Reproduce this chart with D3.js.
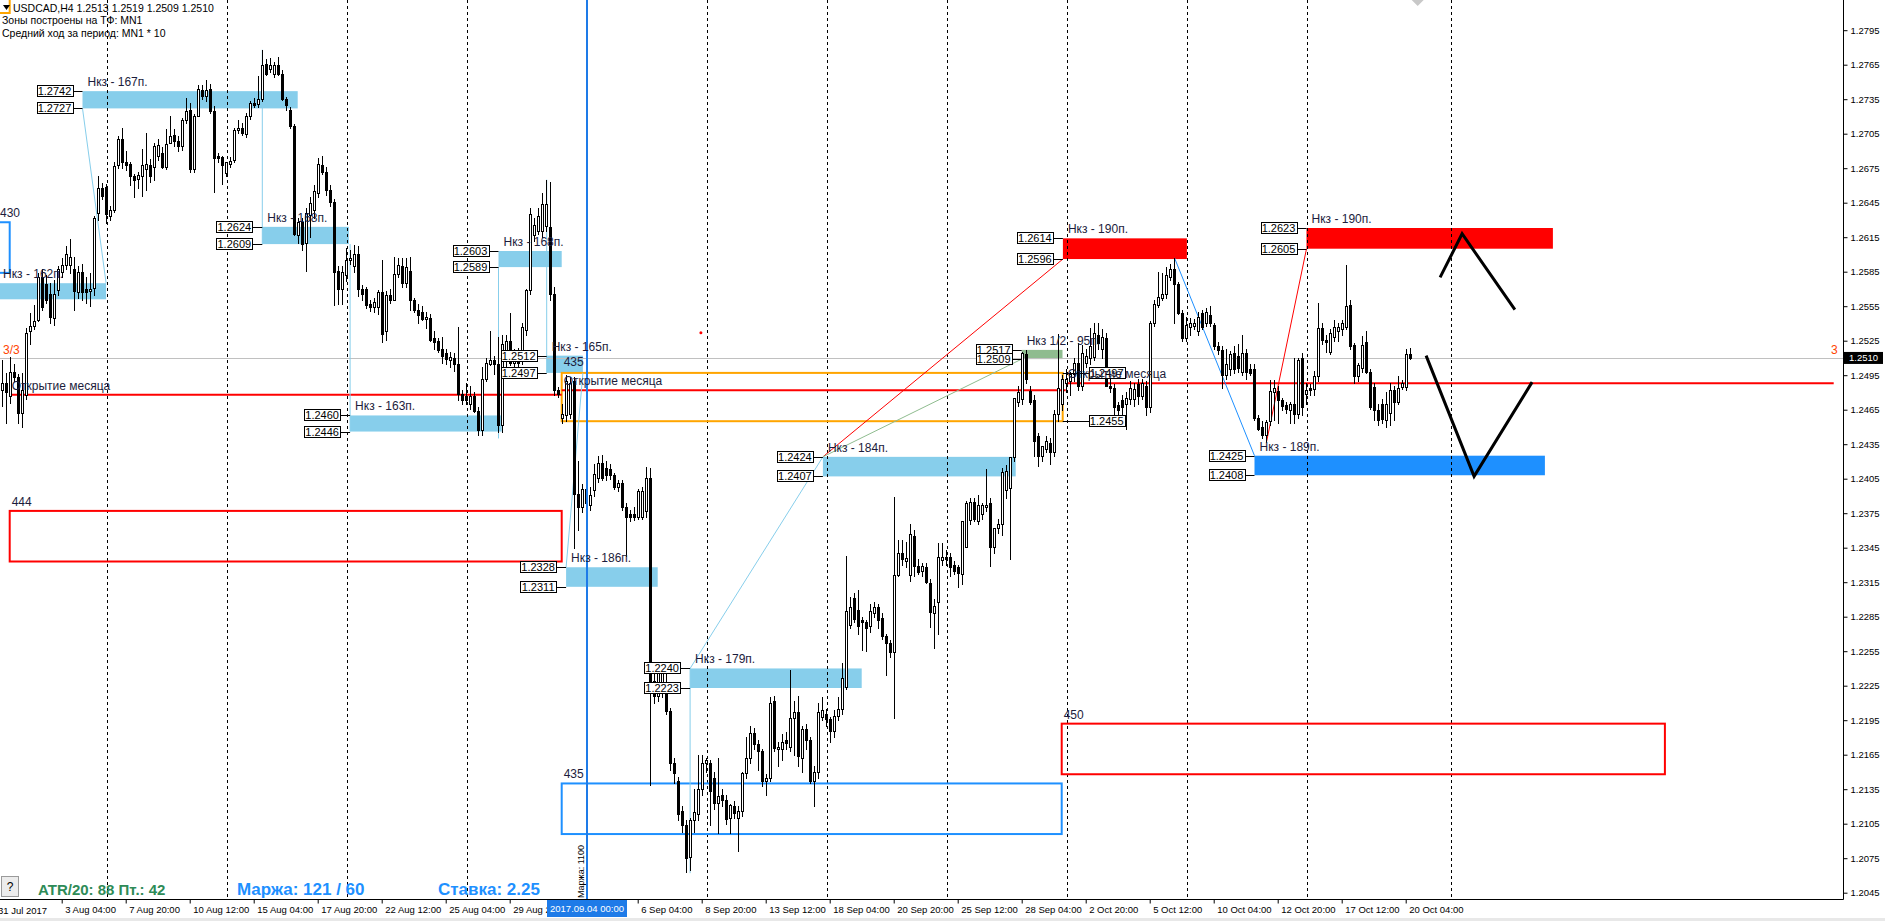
<!DOCTYPE html>
<html><head><meta charset="utf-8">
<script src="https://cdn.jsdelivr.net/npm/d3@7"></script>
<style>
html,body{margin:0;padding:0;background:#fff;overflow:hidden}
svg{display:block;font-family:"Liberation Sans",Arial,sans-serif}
</style></head><body>
<svg id="chart" width="1885" height="921"></svg>
<script>
// ================= DATA =================
const headerLines = ["USDCAD,H4  1.2513 1.2519 1.2509 1.2510", "Зоны построены на ТФ: MN1", "Средний ход за период: MN1 * 10"];

// H4 candles, bar 0 = 31 Jul 2017 16:00
const candleOpen = [
1.2482,1.2488,1.2477,1.2498,1.2493,1.2462,1.2478,1.2533,1.2538,1.2543,
1.2580,1.2574,1.2566,1.2545,1.2569,1.2585,1.2591,1.2591,1.2587,1.2567,
1.2585,1.2570,1.2568,1.2571,1.2636,1.2658,1.2659,1.2633,1.2639,1.2678,
1.2700,1.2680,1.2679,1.2668,1.2666,1.2668,1.2674,1.2678,1.2676,1.2686,
1.2688,1.2676,1.2697,1.2704,1.2699,1.2694,1.2717,1.2726,1.2674,1.2720,
1.2743,1.2738,1.2744,1.2725,1.2686,1.2685,1.2671,1.2679,1.2682,1.2708,
1.2710,1.2705,1.2720,1.2732,1.2731,1.2735,1.2766,1.2761,1.2757,1.2765,
1.2757,1.2735,1.2726,1.2712,1.2617,1.2628,1.2610,1.2634,1.2639,1.2653,
1.2678,1.2672,1.2656,1.2646,1.2586,1.2570,1.2582,1.2595,1.2590,1.2600,
1.2570,1.2570,1.2557,1.2554,1.2554,1.2567,1.2533,1.2565,1.2560,1.2583,
1.2590,1.2575,1.2586,1.2560,1.2552,1.2550,1.2544,1.2545,1.2527,1.2525,
1.2518,1.2514,1.2508,1.2510,1.2505,1.2479,1.2477,1.2470,1.2477,1.2464,
1.2447,1.2492,1.2505,1.2508,1.2505,1.2452,1.2508,1.2525,1.2506,1.2510,
1.2508,1.2534,1.2569,1.2617,1.2620,1.2620,1.2625,1.2624,1.2566,1.2482,
1.2458,1.2460,1.2461,1.2490,1.2392,1.2380,1.2396,1.2382,1.2395,1.2406,
1.2419,1.2414,1.2413,1.2408,1.2398,1.2401,1.2380,1.2374,1.2374,1.2372,
1.2372,1.2377,1.2406,1.2229,1.2216,1.2222,1.2226,1.2203,1.2158,1.2142,
1.2116,1.2104,1.2076,1.2108,1.2113,1.2135,1.2158,1.2158,1.2145,1.2123,
1.2130,1.2126,1.2110,1.2120,1.2110,1.2116,1.2149,1.2162,1.2184,1.2174,
1.2168,1.2142,1.2145,1.2212,1.2170,1.2170,1.2178,1.2172,1.2197,1.2202,
1.2162,1.2187,1.2178,1.2142,1.2150,1.2198,1.2200,1.2196,1.2186,1.2199,
1.2205,1.2224,1.2278,1.2301,1.2291,1.2282,1.2280,1.2277,1.2288,1.2293,
1.2284,1.2268,1.2262,1.2254,1.2321,1.2340,1.2333,1.2321,1.2355,1.2329,
1.2325,1.2328,1.2314,1.2288,1.2298,1.2334,1.2337,1.2337,1.2330,1.2328,
1.2322,1.2346,1.2369,1.2385,1.2368,1.2374,1.2380,1.2384,1.2346,1.2362,
1.2366,1.2395,1.2397,1.2424,1.2472,1.2474,1.2513,1.2481,1.2473,1.2442,
1.2425,1.2431,1.2436,1.2428,1.2461,1.2470,1.2488,1.2490,1.2496,1.2506,
1.2486,1.2506,1.2510,1.2511,1.2530,1.2518,1.2527,1.2486,1.2484,1.2469,
1.2473,1.2470,1.2474,1.2474,1.2487,1.2477,1.2486,1.2467,1.2540,1.2556,
1.2562,1.2566,1.2580,1.2587,1.2574,1.2549,1.2527,1.2537,1.2538,1.2533,
1.2549,1.2540,1.2547,1.2539,1.2520,1.2517,1.2495,1.2500,1.2514,1.2512,
1.2498,1.2514,1.2500,1.2500,1.2458,1.2450,1.2443,1.2455,1.2480,1.2481,
1.2473,1.2469,1.2465,1.2470,1.2461,1.2510,1.2479,1.2484,1.2483,1.2494,
1.2536,1.2526,1.2515,1.2528,1.2533,1.2535,1.2537,1.2556,1.2521,1.2494,
1.2501,1.2524,1.2498,1.2485,1.2465,1.2470,1.2456,1.2462,1.2482,1.2472,
1.2485,1.2485,1.2513];
const candleHigh = [
1.2508,1.2497,1.2511,1.2505,1.2496,1.2497,1.2536,1.2549,1.2556,1.2584,
1.2587,1.2582,1.2575,1.2578,1.2590,1.2597,1.2607,1.2613,1.2598,1.2590,
1.2592,1.2580,1.2584,1.2633,1.2668,1.2662,1.2661,1.2642,1.2680,1.2703,
1.2710,1.2690,1.2680,1.2670,1.2672,1.2692,1.2706,1.2683,1.2697,1.2700,
1.2693,1.2709,1.2720,1.2709,1.2703,1.2719,1.2736,1.2732,1.2722,1.2747,
1.2747,1.2752,1.2748,1.2729,1.2688,1.2686,1.2680,1.2685,1.2710,1.2717,
1.2714,1.2723,1.2733,1.2736,1.2755,1.2778,1.2770,1.2771,1.2767,1.2772,
1.2760,1.2737,1.2728,1.2713,1.2632,1.2632,1.2640,1.2650,1.2660,1.2684,
1.2686,1.2676,1.2660,1.2648,1.2590,1.2590,1.2606,1.2604,1.2608,1.2607,
1.2573,1.2572,1.2560,1.2562,1.2569,1.2595,1.2568,1.2570,1.2598,1.2597,
1.2597,1.2597,1.2598,1.2562,1.2557,1.2555,1.2550,1.2548,1.2533,1.2527,
1.2528,1.2518,1.2515,1.2514,1.2537,1.2482,1.2488,1.2486,1.2480,1.2467,
1.2502,1.2510,1.2533,1.2512,1.2528,1.2530,1.2530,1.2549,1.2518,1.2519,
1.2540,1.2570,1.2640,1.2632,1.2640,1.2653,1.2665,1.2663,1.2572,1.2485,
1.2470,1.2495,1.2493,1.2493,1.2420,1.2400,1.2402,1.2398,1.2418,1.2425,
1.2426,1.2420,1.2418,1.2410,1.2404,1.2404,1.2384,1.2378,1.2380,1.2396,
1.2398,1.2415,1.2414,1.2245,1.2240,1.2242,1.2236,1.2206,1.2162,1.2146,
1.2120,1.2108,1.2110,1.2135,1.2165,1.2165,1.2162,1.2160,1.2150,1.2162,
1.2135,1.2130,1.2122,1.2125,1.2120,1.2150,1.2180,1.2190,1.2188,1.2178,
1.2170,1.2148,1.2215,1.2216,1.2176,1.2183,1.2185,1.2239,1.2212,1.2216,
1.2190,1.2192,1.2180,1.2155,1.2210,1.2215,1.2205,1.2198,1.2204,1.2215,
1.2245,1.2338,1.2302,1.2306,1.2308,1.2285,1.2282,1.2296,1.2298,1.2296,
1.2288,1.2270,1.2265,1.2389,1.2352,1.2352,1.2350,1.2366,1.2360,1.2335,
1.2332,1.2332,1.2318,1.2300,1.2349,1.2349,1.2343,1.2340,1.2333,1.2330,
1.2368,1.2386,1.2388,1.2388,1.2391,1.2384,1.2413,1.2388,1.2362,1.2370,
1.2414,1.2417,1.2424,1.2475,1.2486,1.2515,1.2517,1.2486,1.2478,1.2445,
1.2433,1.2442,1.2440,1.2465,1.2531,1.2495,1.2500,1.2498,1.2510,1.2523,
1.2521,1.2518,1.2536,1.2540,1.2540,1.2535,1.2532,1.2492,1.2487,1.2472,
1.2478,1.2480,1.2490,1.2488,1.2492,1.2492,1.2490,1.2542,1.2560,1.2585,
1.2584,1.2589,1.2592,1.2597,1.2576,1.2552,1.2546,1.2545,1.2544,1.2550,
1.2552,1.2553,1.2555,1.2540,1.2524,1.2520,1.2518,1.2516,1.2520,1.2522,
1.2530,1.2518,1.2505,1.2505,1.2460,1.2455,1.2456,1.2491,1.2491,1.2486,
1.2475,1.2472,1.2472,1.2510,1.2510,1.2514,1.2488,1.2487,1.2499,1.2558,
1.2540,1.2530,1.2535,1.2543,1.2540,1.2543,1.2591,1.2560,1.2523,1.2506,
1.2529,1.2533,1.2500,1.2488,1.2470,1.2474,1.2480,1.2488,1.2486,1.2494,
1.2491,1.2518,1.2519];
const candleLow = [
1.2468,1.2453,1.2471,1.2490,1.2453,1.2450,1.2474,1.2522,1.2535,1.2542,
1.2552,1.2558,1.2540,1.2539,1.2565,1.2580,1.2587,1.2584,1.2552,1.2562,
1.2560,1.2558,1.2555,1.2565,1.2630,1.2648,1.2627,1.2630,1.2637,1.2675,
1.2675,1.2673,1.2660,1.2650,1.2658,1.2651,1.2656,1.2663,1.2665,1.2682,
1.2675,1.2674,1.2697,1.2694,1.2690,1.2691,1.2714,1.2672,1.2672,1.2720,
1.2735,1.2733,1.2723,1.2654,1.2680,1.2661,1.2668,1.2676,1.2680,1.2706,
1.2704,1.2702,1.2718,1.2728,1.2728,1.2733,1.2756,1.2759,1.2754,1.2756,
1.2734,1.2726,1.2710,1.2617,1.2610,1.2604,1.2586,1.2615,1.2632,1.2650,
1.2670,1.2652,1.2642,1.2556,1.2557,1.2557,1.2577,1.2592,1.2585,1.2564,
1.2560,1.2553,1.2551,1.2550,1.2548,1.2524,1.2526,1.2558,1.2560,1.2580,
1.2572,1.2572,1.2552,1.2550,1.2540,1.2543,1.2536,1.2525,1.2518,1.2515,
1.2506,1.2505,1.2502,1.2499,1.2473,1.2470,1.2470,1.2466,1.2463,1.2443,
1.2443,1.2490,1.2504,1.2496,1.2446,1.2446,1.2496,1.2504,1.2500,1.2502,
1.2505,1.2530,1.2566,1.2612,1.2618,1.2615,1.2620,1.2560,1.2478,1.2476,
1.2453,1.2455,1.2458,1.2345,1.2360,1.2376,1.2378,1.2378,1.2390,1.2402,
1.2404,1.2404,1.2405,1.2396,1.2394,1.2378,1.2338,1.2368,1.2369,1.2370,
1.2370,1.2372,1.2139,1.2210,1.2212,1.2215,1.2200,1.2152,1.2140,1.2108,
1.2098,1.2063,1.2065,1.2098,1.2108,1.2130,1.2150,1.2104,1.2118,1.2097,
1.2120,1.2105,1.2097,1.2110,1.2081,1.2112,1.2145,1.2158,1.2170,1.2152,
1.2138,1.2130,1.2142,1.2168,1.2155,1.2160,1.2170,1.2168,1.2165,1.2155,
1.2150,1.2170,1.2140,1.2120,1.2145,1.2195,1.2190,1.2176,1.2180,1.2195,
1.2200,1.2222,1.2275,1.2280,1.2270,1.2256,1.2255,1.2272,1.2285,1.2275,
1.2266,1.2234,1.2250,1.2197,1.2320,1.2330,1.2328,1.2316,1.2320,1.2322,
1.2320,1.2314,1.2276,1.2258,1.2270,1.2330,1.2330,1.2320,1.2322,1.2311,
1.2313,1.2346,1.2366,1.2368,1.2366,1.2370,1.2377,1.2329,1.2340,1.2358,
1.2356,1.2388,1.2335,1.2420,1.2468,1.2470,1.2488,1.2470,1.2425,1.2416,
1.2420,1.2428,1.2418,1.2425,1.2455,1.2465,1.2480,1.2478,1.2490,1.2482,
1.2482,1.2502,1.2505,1.2508,1.2518,1.2510,1.2488,1.2480,1.2461,1.2460,
1.2458,1.2448,1.2470,1.2468,1.2470,1.2474,1.2460,1.2463,1.2538,1.2554,
1.2560,1.2562,1.2578,1.2540,1.2548,1.2525,1.2525,1.2530,1.2535,1.2530,
1.2535,1.2538,1.2538,1.2518,1.2513,1.2484,1.2492,1.2495,1.2497,1.2498,
1.2495,1.2492,1.2495,1.2456,1.2447,1.2440,1.2437,1.2452,1.2456,1.2453,
1.2465,1.2462,1.2453,1.2453,1.2458,1.2460,1.2470,1.2478,1.2478,1.2490,
1.2522,1.2515,1.2513,1.2525,1.2525,1.2530,1.2535,1.2518,1.2488,1.2490,
1.2498,1.2497,1.2466,1.2456,1.2452,1.2453,1.2450,1.2452,1.2456,1.2470,
1.2483,1.2482,1.2509];
const candleClose = [
1.2488,1.2480,1.2498,1.2493,1.2462,1.2482,1.2532,1.2538,1.2542,1.2580,
1.2554,1.2560,1.2546,1.2566,1.2587,1.2591,1.2600,1.2598,1.2568,1.2585,
1.2567,1.2567,1.2570,1.2632,1.2658,1.2651,1.2635,1.2639,1.2677,1.2700,
1.2680,1.2678,1.2668,1.2665,1.2669,1.2678,1.2679,1.2668,1.2694,1.2695,
1.2676,1.2696,1.2703,1.2699,1.2694,1.2717,1.2725,1.2674,1.2720,1.2744,
1.2738,1.2743,1.2725,1.2684,1.2684,1.2678,1.2680,1.2681,1.2708,1.2710,
1.2706,1.2720,1.2732,1.2730,1.2735,1.2765,1.2757,1.2765,1.2765,1.2757,
1.2735,1.2730,1.2712,1.2618,1.2628,1.2609,1.2636,1.2645,1.2655,1.2679,
1.2672,1.2656,1.2646,1.2585,1.2570,1.2585,1.2595,1.2597,1.2600,1.2570,
1.2566,1.2556,1.2554,1.2559,1.2567,1.2531,1.2565,1.2560,1.2583,1.2591,
1.2575,1.2589,1.2560,1.2552,1.2547,1.2544,1.2546,1.2526,1.2524,1.2517,
1.2512,1.2509,1.2511,1.2505,1.2479,1.2473,1.2473,1.2477,1.2464,1.2447,
1.2492,1.2506,1.2508,1.2505,1.2452,1.2522,1.2525,1.2506,1.2510,1.2506,
1.2537,1.2569,1.2635,1.2626,1.2633,1.2644,1.2644,1.2566,1.2482,1.2479,
1.2461,1.2490,1.2488,1.2392,1.2380,1.2396,1.2384,1.2391,1.2409,1.2419,
1.2406,1.2408,1.2408,1.2398,1.2401,1.2380,1.2372,1.2372,1.2372,1.2394,
1.2394,1.2406,1.2229,1.2216,1.2236,1.2238,1.2203,1.2158,1.2149,1.2113,
1.2104,1.2075,1.2108,1.2115,1.2135,1.2158,1.2160,1.2133,1.2123,1.2129,
1.2126,1.2109,1.2121,1.2114,1.2116,1.2149,1.2162,1.2184,1.2174,1.2168,
1.2142,1.2145,1.2210,1.2171,1.2172,1.2176,1.2175,1.2197,1.2202,1.2164,
1.2187,1.2178,1.2142,1.2150,1.2202,1.2204,1.2196,1.2186,1.2199,1.2205,
1.2232,1.2290,1.2293,1.2283,1.2277,1.2280,1.2275,1.2290,1.2293,1.2282,
1.2268,1.2262,1.2254,1.2321,1.2340,1.2335,1.2336,1.2357,1.2329,1.2324,
1.2329,1.2315,1.2289,1.2294,1.2337,1.2337,1.2335,1.2328,1.2325,1.2323,
1.2368,1.2384,1.2385,1.2370,1.2382,1.2382,1.2382,1.2346,1.2362,1.2366,
1.2411,1.2412,1.2424,1.2475,1.2480,1.2514,1.2492,1.2472,1.2438,1.2425,
1.2433,1.2438,1.2428,1.2461,1.2484,1.2492,1.2492,1.2496,1.2506,1.2486,
1.2514,1.2512,1.2520,1.2532,1.2523,1.2528,1.2486,1.2484,1.2467,1.2465,
1.2467,1.2475,1.2484,1.2483,1.2477,1.2488,1.2467,1.2540,1.2557,1.2563,
1.2566,1.2582,1.2587,1.2574,1.2549,1.2527,1.2539,1.2540,1.2540,1.2546,
1.2537,1.2550,1.2540,1.2520,1.2517,1.2495,1.2505,1.2513,1.2500,1.2501,
1.2514,1.2498,1.2497,1.2458,1.2448,1.2443,1.2454,1.2481,1.2484,1.2473,
1.2468,1.2466,1.2470,1.2461,1.2508,1.2467,1.2482,1.2482,1.2494,1.2536,
1.2526,1.2524,1.2532,1.2537,1.2537,1.2540,1.2555,1.2520,1.2494,1.2504,
1.2521,1.2498,1.2467,1.2465,1.2456,1.2457,1.2470,1.2482,1.2472,1.2484,
1.2488,1.2513,1.2510];

const currentPrice = 1.2510;
const priceTicks = [1.2045,1.2075,1.2105,1.2135,1.2165,1.2195,1.2225,1.2255,1.2285,1.2315,1.2345,1.2375,1.2405,1.2435,1.2465,1.2495,1.2525,1.2555,1.2585,1.2615,1.2645,1.2675,1.2705,1.2735,1.2765,1.2795];
const timeTickBars = [15,31,47,63,79,95,111,127,159,175,191,207,223,239,255,271,287,303,319,335,351];
const timeTickLabels = ["3 Aug 04:00","7 Aug 20:00","10 Aug 12:00","15 Aug 04:00","17 Aug 20:00","22 Aug 12:00","25 Aug 04:00","29 Aug 20:00","6 Sep 04:00","8 Sep 20:00","13 Sep 12:00","18 Sep 04:00","20 Sep 20:00","25 Sep 12:00","28 Sep 04:00","2 Oct 20:00","5 Oct 12:00","10 Oct 04:00","12 Oct 20:00","17 Oct 12:00","20 Oct 04:00"];
const firstTimeLabel = "31 Jul 2017";
const gridBars = [26,56,86,116,146,176,206,236,266,296,326,362];
const vLineBar = 146, vLineLabel = "2017.09.04 00:00";
const shiftMarkerBar = 354;

// demand / supply zones
const zoneTop    = [1.2742,1.2575,1.2624,1.2460,1.2603,1.2512,1.2328,1.2240,1.2424,1.2517,1.2614,1.2623,1.2425];
const zoneBottom = [1.2727,1.2561,1.2609,1.2446,1.2589,1.2497,1.2311,1.2223,1.2407,1.2509,1.2596,1.2605,1.2408];
const zoneFrom   = [20.2,-1,65.15,87.1,124.2,136.25,141.1,172.1,205.3,255,265.3,326.2,313.2];
const zoneTo     = [74,26.1,86.8,125,140,145.3,164,215,253.5,265.2,296.3,387.8,385.8];
const zoneText   = ["Нкз - 167п.","Нкз - 162п.","Нкз - 168п.","Нкз - 163п.","Нкз - 168п.","Нкз - 165п.","Нкз - 186п.","Нкз - 179п.","Нкз - 184п.","Нкз 1/2 - 95п.","Нкз - 190п.","Нкз - 190п.","Нкз - 189п."];
const zoneColor  = ["#87CEEB","#87CEEB","#87CEEB","#87CEEB","#87CEEB","#87CEEB","#87CEEB","#87CEEB","#87CEEB","#8FBC8F","#FF0000","#FF0000","#1E90FF"];

// monthly range rectangles (outline)
const rangeTop    = [1.2628,1.2377,1.2140,1.2192];
const rangeBottom = [1.2584,1.2333,1.2096,1.2148];
const rangeFrom   = [-60,2,140,265];
const rangeTo     = [2,140,265,415.8];
const rangeText   = ["430","444","435","450"];
const rangeColor  = ["#1E90FF","#FF0000","#1E90FF","#FF0000"];

// month open lines
const monthOpenPrice = [1.2478,1.2482,1.2488];
const monthOpenFrom  = [2,140,266];
const monthOpenTo    = [140,266,458];
const monthOpenText  = "Открытие месяца";

// opening range box (orange)
const orangeTop = [1.2497], orangeBottom = [1.2455], orangeFrom = [140], orangeTo = [265.25];

// thin connecting trend lines [bar, price]
const linkFrom  = [[20.2,1.2727],[65.15,1.2778],[87.1,1.2609],[124.2,1.2589],[136.25,1.2665],[141.1,1.2328],[172.1,1.2062],[172.1,1.2240],[205.3,1.2424],[205.3,1.2424],[293.2,1.2597],[316.2,1.2437]];
const linkTo    = [[26.1,1.2575],[65.15,1.2609],[87.1,1.2446],[124.2,1.2440],[136.25,1.2497],[145.3,1.2497],[172.1,1.2240],[205.3,1.2424],[265.3,1.2596],[255,1.2509],[313.2,1.2425],[326.2,1.2605]];
const linkColor = ["#87CEEB","#87CEEB","#87CEEB","#87CEEB","#87CEEB","#87CEEB","#87CEEB","#87CEEB","#FF0000","#8FBC8F","#1E90FF","#FF0000"];

// hand-drawn forecast zigzags
const zigUpBars = [359.6,365.1,378.3], zigUpPrices = [1.2580,1.2618,1.2552];
const zigDnBars = [356.1,368.1,382.6], zigDnPrices = [1.2512,1.2407,1.2489];

const markerBar = 174.8, markerPrice = 1.2532;
const bottomTexts = ["ATR/20: 88  Пт.: 42","Маржа: 121 / 60","Ставка: 2.25"];
const verticalNote = "Маржа: 1100";

// ================= CHART =================
const W = 1885, H = 921, plotR = 1843, plotB = 899;
const svg = d3.select("#chart");
const x = d3.scaleLinear().domain([0,1]).range([1.7,5.7]);
const y = d3.scaleLinear().domain([1.2795,1.2045]).range([30.2,892.7]);
const px = v => Math.round(v) + 0.5;

svg.append("rect").attr("width",W).attr("height",H).attr("fill","#fff");
svg.append("defs").append("clipPath").attr("id","plot").append("rect").attr("width",plotR).attr("height",plotB);
const plot = svg.append("g").attr("clip-path","url(#plot)");

// zones
const zi = d3.range(zoneTop.length);
plot.selectAll("rect.zone").data(zi).join("rect").attr("class","zone")
  .attr("x",i=>x(zoneFrom[i])).attr("width",i=>x(zoneTo[i])-x(zoneFrom[i]))
  .attr("y",i=>y(zoneTop[i])).attr("height",i=>y(zoneBottom[i])-y(zoneTop[i]))
  .attr("fill",i=>zoneColor[i]);

// grid
plot.selectAll("line.grid").data(gridBars).join("line")
  .attr("x1",d=>px(x(d)+1)).attr("x2",d=>px(x(d)+1)).attr("y1",0).attr("y2",plotB)
  .attr("stroke","#000").attr("stroke-dasharray","3,3").attr("stroke-width",1);

// bid line
plot.append("line").attr("x1",0).attr("x2",plotR).attr("y1",px(y(currentPrice))).attr("y2",px(y(currentPrice)))
  .attr("stroke","#c0c0c0");

// range rectangles
const ri = d3.range(rangeTop.length);
plot.selectAll("rect.range").data(ri).join("rect")
  .attr("x",i=>x(rangeFrom[i])).attr("width",i=>x(rangeTo[i])-x(rangeFrom[i]))
  .attr("y",i=>y(rangeTop[i])).attr("height",i=>y(rangeBottom[i])-y(rangeTop[i]))
  .attr("fill","none").attr("stroke",i=>rangeColor[i]).attr("stroke-width",2);
plot.selectAll("text.range").data(ri).join("text")
  .attr("x",i=>Math.max(0,x(rangeFrom[i])+2)).attr("y",i=>y(rangeTop[i])-5)
  .attr("font-size",12).attr("fill","#1c1c3c").text(i=>rangeText[i]);

// orange box
plot.selectAll("rect.orange").data(orangeTop).join("rect")
  .attr("x",(d,i)=>x(orangeFrom[i])).attr("width",(d,i)=>x(orangeTo[i])-x(orangeFrom[i]))
  .attr("y",d=>y(d)).attr("height",(d,i)=>y(orangeBottom[i])-y(d))
  .attr("fill","none").attr("stroke","#FFA500").attr("stroke-width",2);
plot.append("path").attr("d",`M${x(2)},0 V13 H0`).attr("fill","none").attr("stroke","#FFA500").attr("stroke-width",2);

// month open lines
const mi = d3.range(monthOpenPrice.length);
plot.selectAll("line.mo").data(mi).join("line")
  .attr("x1",i=>x(monthOpenFrom[i])).attr("x2",i=>x(monthOpenTo[i]))
  .attr("y1",i=>y(monthOpenPrice[i])).attr("y2",i=>y(monthOpenPrice[i]))
  .attr("stroke","#FF0000").attr("stroke-width",2);

// links
const li = d3.range(linkFrom.length);
plot.selectAll("line.link").data(li).join("line")
  .attr("x1",i=>x(linkFrom[i][0])).attr("y1",i=>y(linkFrom[i][1]))
  .attr("x2",i=>x(linkTo[i][0])).attr("y2",i=>y(linkTo[i][1]))
  .attr("stroke",i=>linkColor[i]).attr("stroke-width",1);

// candles
const bi = d3.range(candleOpen.length);
plot.selectAll("line.wick").data(bi).join("line")
  .attr("x1",i=>Math.round(x(i))+0.5).attr("x2",i=>Math.round(x(i))+0.5)
  .attr("y1",i=>Math.round(y(candleHigh[i]))).attr("y2",i=>Math.round(y(candleLow[i]))+1)
  .attr("stroke","#000");
plot.selectAll("rect.body").data(bi).join("rect")
  .attr("x",i=>Math.round(x(i))-0.5).attr("width",2)
  .attr("y",i=>Math.round(y(Math.max(candleOpen[i],candleClose[i])))+0.5)
  .attr("height",i=>Math.max(0.001,Math.round(y(Math.min(candleOpen[i],candleClose[i])))-Math.round(y(Math.max(candleOpen[i],candleClose[i])))))
  .attr("fill",i=>candleClose[i]>=candleOpen[i]?"#fff":"#000").attr("stroke","#000");

// vertical line (drawn over its grid line)
plot.append("line").attr("x1",Math.round(x(vLineBar)+1)).attr("x2",Math.round(x(vLineBar)+1)).attr("y1",0).attr("y2",plotB)
  .attr("stroke","#1E7BE8").attr("stroke-width",2);

// zigzags
const zline = d3.line().x(d=>x(d[0])).y(d=>y(d[1]));
plot.append("path").attr("d",zline(zigUpBars.map((b,i)=>[b,zigUpPrices[i]]))).attr("fill","none").attr("stroke","#000").attr("stroke-width",3);
plot.append("path").attr("d",zline(zigDnBars.map((b,i)=>[b,zigDnPrices[i]]))).attr("fill","none").attr("stroke","#000").attr("stroke-width",3);

plot.append("circle").attr("cx",x(markerBar)).attr("cy",y(markerPrice)).attr("r",1.5).attr("fill","#FF0000");
// chart-shift marker
plot.append("path").attr("d",`M${x(shiftMarkerBar)-6},0 L${x(shiftMarkerBar)+6},0 L${x(shiftMarkerBar)},6 Z`).attr("fill","#c8c8c8");

// zone texts and price labels
const labelW = 36, labelH = 11;
function priceLabel(xRight, price, xTo){
  const yy = Math.round(y(price));
  plot.append("line").attr("x1",xRight).attr("x2",xTo).attr("y1",yy+0.5).attr("y2",yy+0.5).attr("stroke","#000");
  plot.append("rect").attr("x",Math.round(xRight-labelW)+0.5).attr("y",yy-5.5).attr("width",labelW).attr("height",labelH)
    .attr("fill","#fff").attr("stroke","#000");
  plot.append("text").attr("x",xRight-labelW/2).attr("y",yy+4).attr("text-anchor","middle").attr("font-size",11).attr("fill","#000")
    .text(d3.format(".4f")(price));
}
zi.forEach(i=>{
  const xl = x(zoneFrom[i]);
  if (xl - 10 - labelW < 0) return; // labels would sit off-screen
  priceLabel(xl-10, zoneTop[i], xl);
  priceLabel(xl-10, zoneBottom[i], xl);
});
plot.selectAll("text.zone").data(zi).join("text")
  .attr("x",i=>Math.max(3,x(zoneFrom[i])+5)).attr("y",i=>y(zoneTop[i])-5)
  .attr("font-size",12).attr("fill","#1c1c3c").text(i=>zoneText[i]);
priceLabel(x(orangeTo[0])+62, orangeBottom[0], x(orangeTo[0]));
priceLabel(x(orangeTo[0])+62, orangeTop[0], x(orangeTo[0]));

plot.selectAll("text.mo").data(mi).join("text")
  .attr("x",i=>x(monthOpenFrom[i])+2).attr("y",i=>y(monthOpenPrice[i])-5)
  .attr("font-size",12).attr("fill","#1c1c3c").text(monthOpenText);
plot.append("text").attr("x",x(140)+2).attr("y",y(1.2512)+10).attr("font-size",12).attr("fill","#1c1c3c").text("435");

plot.append("text").attr("x",3).attr("y",y(currentPrice)-4).attr("font-size",12).attr("fill","#FF4500").text("3/3");
plot.append("text").attr("x",1831).attr("y",y(currentPrice)-4).attr("font-size",12).attr("fill","#FF4500").text("3");

// header
plot.append("path").attr("d","M3,5 L10,5 L6.5,10 Z").attr("fill","#000");
plot.selectAll("text.hdr").data(headerLines).join("text")
  .attr("x",(d,i)=>i===0?13:2).attr("y",(d,i)=>11.5+i*12.5).attr("font-size",10.5).attr("fill","#000").text(d=>d);

// bottom info
plot.append("rect").attr("x",1.5).attr("y",876.5).attr("width",17).attr("height",20).attr("fill","#ececec").attr("stroke","#9a9a9a");
plot.append("text").attr("x",10).attr("y",891).attr("text-anchor","middle").attr("font-size",12).text("?");
plot.append("text").attr("x",38).attr("y",895).attr("font-size",15).attr("font-weight","bold").attr("fill","#2E8B57").text(bottomTexts[0]);
plot.append("text").attr("x",237).attr("y",895).attr("font-size",17).attr("font-weight","bold").attr("fill","#1E90FF").text(bottomTexts[1]);
plot.append("text").attr("x",438).attr("y",895).attr("font-size",17).attr("font-weight","bold").attr("fill","#1E90FF").text(bottomTexts[2]);
plot.append("text").attr("transform",`translate(${x(vLineBar)-2},898) rotate(-90)`).attr("font-size",9).attr("fill","#000").text(verticalNote);

// axes frame
svg.append("line").attr("x1",0).attr("x2",plotR+0.5).attr("y1",plotB+0.5).attr("y2",plotB+0.5).attr("stroke","#000");
svg.append("line").attr("x1",plotR+0.5).attr("x2",plotR+0.5).attr("y1",0).attr("y2",plotB+0.5).attr("stroke","#000");

const yAxis = svg.append("g").attr("transform",`translate(${plotR+0.5},0)`)
  .call(d3.axisRight(y).tickValues(priceTicks).tickSize(4).tickFormat(d3.format(".4f")));
yAxis.select(".domain").remove();
yAxis.selectAll("text").attr("font-size",9.5).attr("font-family","Liberation Sans, Arial").attr("fill","#000").attr("x",7);
svg.append("rect").attr("x",plotR+1).attr("y",y(currentPrice)-6).attr("width",39).attr("height",12).attr("fill","#000");
svg.append("text").attr("x",plotR+6).attr("y",y(currentPrice)+3.5).attr("font-size",9.5).attr("fill","#fff").text(d3.format(".4f")(currentPrice));

const xAxis = svg.append("g").attr("transform",`translate(0,${plotB+0.5})`)
  .call(d3.axisBottom(x).tickValues(timeTickBars).tickSize(4).tickFormat((d,i)=>timeTickLabels[i]));
xAxis.select(".domain").remove();
xAxis.selectAll("text").attr("text-anchor","start").attr("x",3).attr("y",7).attr("dy","0.71em")
  .attr("font-size",9.5).attr("font-family","Liberation Sans, Arial").attr("fill","#000");
svg.append("text").attr("x",-2).attr("y",914).attr("font-size",9.5).text(firstTimeLabel);
svg.append("rect").attr("x",Math.round(x(vLineBar)+1)-40).attr("y",plotB+1).attr("width",80).attr("height",17).attr("fill","#1E7BE8");
svg.append("text").attr("x",Math.round(x(vLineBar)+1)).attr("y",plotB+13).attr("text-anchor","middle").attr("font-size",9.5).attr("fill","#fff").text(vLineLabel);
svg.append("rect").attr("x",0).attr("y",918).attr("width",W).attr("height",3).attr("fill","#e8e8e8");
</script>
</body></html>
